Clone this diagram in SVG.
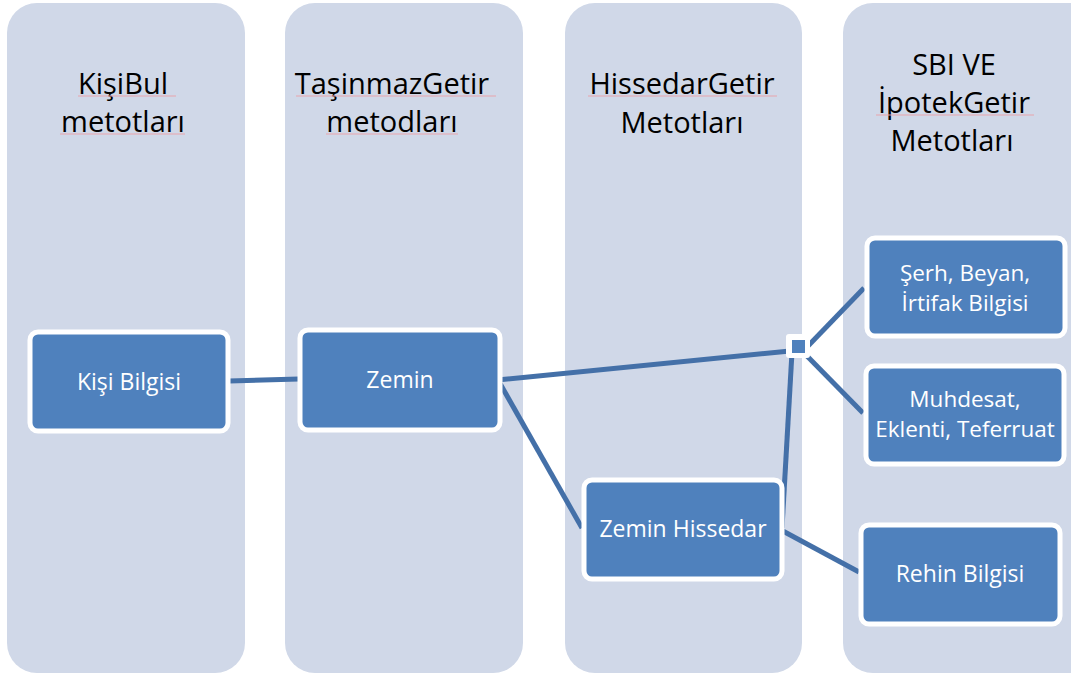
<svg xmlns="http://www.w3.org/2000/svg" width="1071" height="675" viewBox="0 0 1071 675">
<style>
.col{fill:#d0d8e8}
.hd{font-family:"Open Sans","Liberation Sans",sans-serif;font-size:29px;fill:#000;text-anchor:middle}
.sq{stroke:#e8a4ac;stroke-width:1.2;fill:none}
.nd{fill:#4f81bd;stroke:#fff;stroke-width:5}
.nt{font-family:"Open Sans","Liberation Sans",sans-serif;font-size:23px;fill:#fff;text-anchor:middle}
.nt2{font-size:22.5px}
.cn{stroke:#4470a8;stroke-width:5;fill:none;stroke-linecap:butt}
</style>
<rect width="1071" height="675" fill="#fff"/>
<g id="columns">
<g id="col1"><rect class="col" x="7" y="3" width="238" height="670" rx="30"/>
<text class="hd" x="123" y="94">KişiBul</text><text class="hd" x="123" y="132">metotları</text>
<line class="sq" x1="78" y1="96" x2="176" y2="96"/><line class="sq" x1="60" y1="134" x2="185" y2="134"/></g>
<g id="col2"><rect class="col" x="285" y="3" width="238" height="670" rx="30"/>
<text class="hd" x="392" y="94">TaşinmazGetir</text><text class="hd" x="392" y="132">metodları</text>
<line class="sq" x1="296" y1="96" x2="496" y2="96"/><line class="sq" x1="326" y1="134" x2="458" y2="134"/></g>
<g id="col3"><rect class="col" x="565" y="3" width="237" height="670" rx="30"/>
<text class="hd" x="682" y="94">HissedarGetir</text><text class="hd" x="682" y="133">Metotları</text>
<line class="sq" x1="588" y1="96" x2="777" y2="96"/></g>
<g id="col4"><rect class="col" x="843" y="3" width="260" height="670" rx="30"/>
<text class="hd" x="954" y="75">SBI VE</text><text class="hd" x="954" y="113">İpotekGetir</text><text class="hd" x="952" y="151">Metotları</text>
<line class="sq" x1="876" y1="115" x2="1034" y2="115"/></g>
</g>
<g id="connectors">
<line class="cn" x1="229" y1="381" x2="299" y2="379"/>
<line class="cn" x1="497" y1="380" x2="790" y2="351"/>
<line class="cn" x1="498" y1="380" x2="582" y2="528" stroke-width="4"/>
<line class="cn" x1="782" y1="528" x2="792" y2="352" stroke-width="4"/>
<line class="cn" x1="808" y1="346" x2="864" y2="288"/>
<line class="cn" x1="807" y1="356" x2="863" y2="413" stroke-width="4"/>
<line class="cn" x1="781" y1="530" x2="859" y2="572" stroke-width="4"/>
<g id="junction"><rect x="786" y="334" width="24" height="24" rx="3" fill="#fff"/><rect x="792" y="340" width="13" height="13" fill="#4f81bd"/></g>
</g>
<g id="n-kisi"><rect class="nd" x="30" y="332" width="198" height="99" rx="8"/><text class="nt" x="129" y="390">Kişi Bilgisi</text></g>
<g id="n-zemin"><rect class="nd" x="300" y="330" width="200" height="100" rx="8"/><text class="nt" x="400" y="388">Zemin</text></g>
<g id="n-hissedar"><rect class="nd" x="584" y="480" width="198" height="99" rx="8"/><text class="nt" x="683" y="537">Zemin Hissedar</text></g>
<g id="n-serh"><rect class="nd" x="867" y="238" width="198" height="98" rx="8"/><text class="nt nt2" x="965" y="281">Şerh, Beyan,</text><text class="nt nt2" x="965" y="311">İrtifak Bilgisi</text></g>
<g id="n-muhdesat"><rect class="nd" x="866" y="366" width="198" height="98" rx="8"/><text class="nt nt2" x="965" y="407">Muhdesat,</text><text class="nt nt2" x="965" y="437">Eklenti, Teferruat</text></g>
<g id="n-rehin"><rect class="nd" x="861" y="525" width="199" height="99" rx="8"/><text class="nt" x="960" y="582">Rehin Bilgisi</text></g>
</svg>
